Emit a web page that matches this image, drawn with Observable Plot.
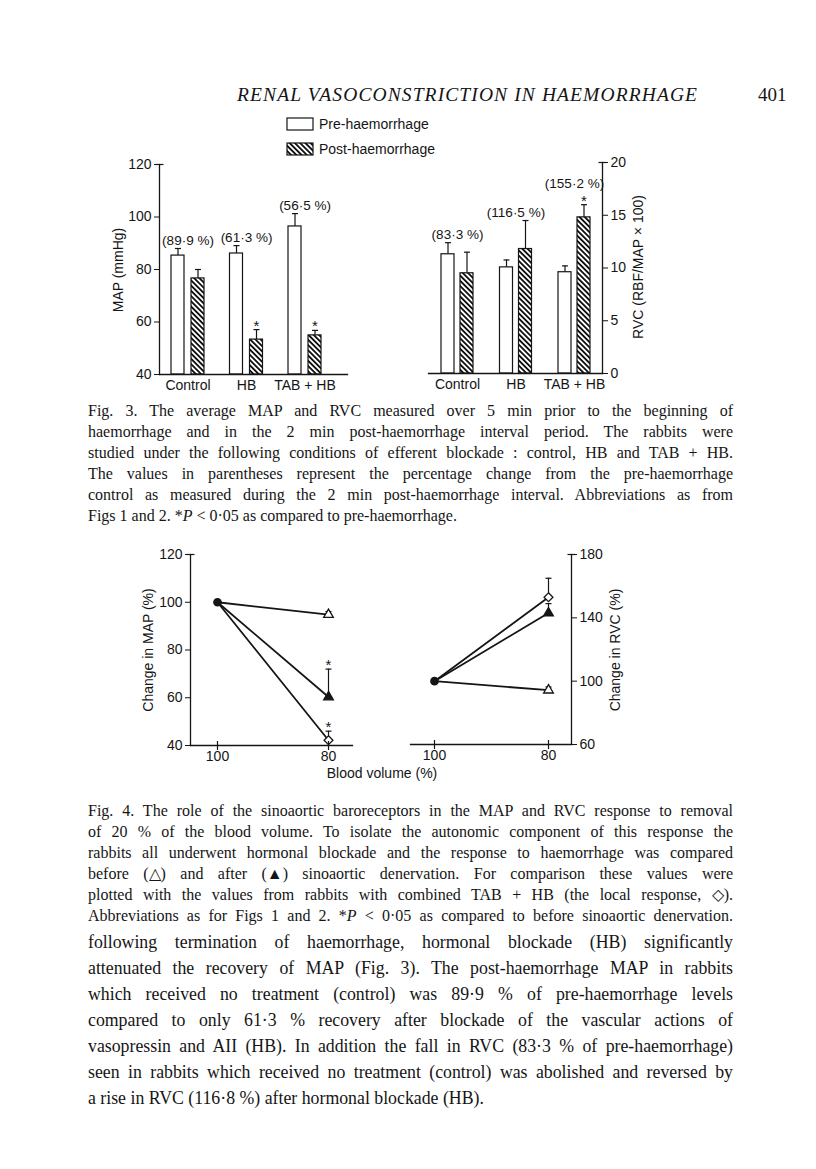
<!DOCTYPE html>
<html><head><meta charset="utf-8">
<script src="https://cdn.jsdelivr.net/npm/d3@7"></script>
<script src="https://cdn.jsdelivr.net/npm/@observablehq/plot@0.6"></script>
<style>
body{margin:0;background:#fff;}
#page{position:relative;width:816px;height:1169px;overflow:hidden;background:#fff;color:#151515;}
.abs{position:absolute;}
.sans{font-family:"Liberation Sans",Arial,sans-serif;font-size:14px;}
.serif{font-family:"Liberation Serif","Times New Roman",serif;}
.rot{position:absolute;white-space:nowrap;transform:translate(-50%,-50%) rotate(-90deg);}
.ctr{position:absolute;white-space:nowrap;transform:translate(-50%,-50%);}
.ln{position:absolute;white-space:nowrap;}
.ln span{display:inline-block;transform-origin:0 50%;}
</style></head><body><div id="page"></div>
<script>
// ---------- Fig. 3 data ----------
const groups = ["Control", "HB", "TAB + HB"];
const mapPre = [85.3, 86.1, 96.4];
const mapPreErr = [2.7, 3.0, 4.9];
const mapPost = [76.6, 53.3, 54.9];
const mapPostErr = [3.4, 3.8, 1.9];
const mapPostSig = [false, true, true];
const mapPct = ["(89·9 %)", "(61·3 %)", "(56·5 %)"];
const mapTicks = [40, 60, 80, 100, 120];

const rvcPre = [11.3, 10.06, 9.6];
const rvcPreErr = [1.1, 0.7, 0.6];
const rvcPost = [9.5, 11.8, 14.8];
const rvcPostErr = [2.0, 2.7, 1.2];
const rvcPostSig = [false, false, true];
const rvcPct = ["(83·3 %)", "(116·5 %)", "(155·2 %)"];
const rvcTicks = [0, 5, 10, 15, 20];

// ---------- Fig. 4 data ----------
const bloodVolume = [100, 80];
const seriesNames = ["before", "after", "TAB + HB"];
const mapBefore = [100, 94.8], mapBeforeErr = [0, 1.3];
const mapAfter = [100, 60.3], mapAfterErr = [0, 11.7];
const mapTab = [100, 42.2], mapTabErr = [0, 3.8];
const mapSig80 = [false, true, true];
const changeMapTicks = [40, 60, 80, 100, 120];
const rvcBefore = [100, 94.3], rvcBeforeErr = [0, 2.0];
const rvcAfter = [100, 143], rvcAfterErr = [0, 6.0];
const rvcTab = [100, 153], rvcTabErr = [0, 12.0];
const rvcSig80 = [false, false, false];
const changeRvcTicks = [60, 100, 140, 180];

// ---------- helpers ----------
const page = document.getElementById("page");
const ink = "#151515";
const hcap = {draw(ctx, size) { const r = Math.sqrt(size / Math.PI); ctx.moveTo(-r, 0); ctx.lineTo(r, 0); }};
const vcap = {draw(ctx, size) { const r = Math.sqrt(size / Math.PI); ctx.moveTo(0, -r); ctx.lineTo(0, r); }};
const style = {fontFamily: "Liberation Sans, Arial, sans-serif", fontSize: "14px", color: ink, background: "transparent", overflow: "visible"};

function place(el, left, top) {
  el.style.position = "absolute"; el.style.left = left + "px"; el.style.top = top + "px";
  page.appendChild(el);
}
function addHatch(svg, id) {
  const ns = "http://www.w3.org/2000/svg";
  const defs = document.createElementNS(ns, "defs");
  defs.innerHTML = `<pattern id="${id}" patternUnits="userSpaceOnUse" width="3.7" height="3.7" patternTransform="rotate(-45)"><rect width="3.7" height="3.7" fill="white"/><line x1="1.85" y1="-1" x2="1.85" y2="5" stroke="#111" stroke-width="1.9"/></pattern>`;
  svg.insertBefore(defs, svg.firstChild);
}
function fig3Rows(pre, preErr, post, postErr, sig) {
  return groups.flatMap((g, i) => [
    {group: g, phase: "pre", value: pre[i], err: preErr[i], sig: false},
    {group: g, phase: "post", value: post[i], err: postErr[i], sig: sig[i]}
  ]);
}
function fig3Labels(rows, pct) {
  return groups.map((g, i) => {
    const rs = rows.filter(r => r.group === g);
    const top = d3.max(rs, r => r.value + r.err);
    const hi = rs.find(r => r.value + r.err === top);
    return {group: g, top, text: pct[i], star: hi.sig};
  });
}
function fig3Panel({rows, labels, ticks, axisAnchor, hatchId, width, height, margins, xRange, padInner, offset, inset}) {
  const pre = rows.filter(r => r.phase === "pre"), post = rows.filter(r => r.phase === "post");
  const base = ticks[0];
  const svg = Plot.plot({
    width, height, ...margins, style,
    x: {type: "band", domain: groups, range: xRange, paddingInner: padInner, paddingOuter: 0, align: 0.5, round: false},
    y: {domain: [ticks[0], ticks[ticks.length - 1]]},
    marks: [
      Plot.ruleX(pre, {x: "group", y1: "value", y2: d => d.value + d.err, dx: -offset, strokeWidth: 1.2}),
      Plot.ruleX(post, {x: "group", y1: "value", y2: d => d.value + d.err, dx: offset, strokeWidth: 1.2}),
      Plot.dot(pre, {x: "group", y: d => d.value + d.err, dx: -offset, symbol: hcap, r: 3, stroke: ink, strokeWidth: 1.2}),
      Plot.dot(post, {x: "group", y: d => d.value + d.err, dx: offset, symbol: hcap, r: 3, stroke: ink, strokeWidth: 1.2}),
      Plot.barY(pre, {x: "group", y1: base, y2: "value", insetRight: inset, fill: "white", stroke: ink, strokeWidth: 1.2}),
      Plot.barY(post, {x: "group", y1: base, y2: "value", insetLeft: inset, fill: `url(#${hatchId})`, stroke: ink, strokeWidth: 1.2}),
      Plot.text(post.filter(d => d.sig), {x: "group", y: d => d.value + d.err, dx: offset, text: () => "*", lineAnchor: "bottom", dy: 1, fontSize: 15}),
      Plot.text(labels.filter(d => !d.star), {x: "group", y: "top", text: "text", lineAnchor: "bottom", dy: -4, fontSize: 13.5}),
      Plot.text(labels.filter(d => d.star), {x: "group", y: "top", text: "text", lineAnchor: "bottom", dy: -17, fontSize: 13.5}),
      Plot.frame({anchor: axisAnchor, strokeWidth: 1.3}),
      Plot.frame({anchor: "bottom", strokeWidth: 1.3}),
      Plot.dot([0], {frameAnchor: axisAnchor === "left" ? "top-left" : "top-right", symbol: hcap, r: 4, stroke: ink, strokeWidth: 1.2}),
      Plot.axisY({anchor: axisAnchor, ticks, tickSize: 5, tickPadding: 3, label: null, tickFormat: d3.format("d")}),
      Plot.axisX({tickSize: 0, tickPadding: 6, label: null})
    ]
  });
  addHatch(svg, hatchId);
  return svg;
}

// ---------- Fig. 3 ----------
const mapRows = fig3Rows(mapPre, mapPreErr, mapPost, mapPostErr, mapPostSig);
const rvcRows = fig3Rows(rvcPre, rvcPreErr, rvcPost, rvcPostErr, rvcPostSig);
place(fig3Panel({rows: mapRows, labels: fig3Labels(mapRows, mapPct), ticks: mapTicks, axisAnchor: "left", hatchId: "hatchL",
  width: 260, height: 250, margins: {marginLeft: 59, marginRight: 13, marginTop: 14, marginBottom: 26},
  xRange: [71, 221], padInner: 0.436, offset: 10, inset: 20}), 100, 150);
place(fig3Panel({rows: rvcRows, labels: fig3Labels(rvcRows, rvcPct), ticks: rvcTicks, axisAnchor: "right", hatchId: "hatchR",
  width: 260, height: 250, margins: {marginLeft: 28, marginRight: 58, marginTop: 12, marginBottom: 27},
  xRange: [41, 190], padInner: 0.453, offset: 9.5, inset: 19}), 400, 150);

// ---------- Fig. 4 ----------
function fig4Rows(lists) {
  return lists.flatMap(([vals, errs], s) => bloodVolume.map((v, i) => ({volume: v, value: vals[i], err: errs[i], series: seriesNames[s], s})));
}
function fig4Panel({rows, sig, ticks, axisAnchor, width, height, margins, xRange}) {
  const end = rows.filter(r => r.volume === bloodVolume[1]);
  const start = rows.filter(r => r.volume === bloodVolume[0] && r.s === 0);
  const errRows = end.filter(r => r.err > 0);
  return Plot.plot({
    width, height, ...margins, style,
    x: {domain: bloodVolume, range: xRange},
    y: {domain: [ticks[0], ticks[ticks.length - 1]]},
    marks: [
      Plot.line(rows, {x: "volume", y: "value", z: "series", strokeWidth: 1.8, stroke: ink}),
      Plot.ruleX(errRows, {x: "volume", y1: "value", y2: d => d.value + d.err, strokeWidth: 1.2}),
      Plot.dot(errRows, {x: "volume", y: d => d.value + d.err, symbol: hcap, r: 3, stroke: ink, strokeWidth: 1.2}),
      Plot.text(end.filter(d => sig[d.s]), {x: "volume", y: d => d.value + d.err, text: () => "*", lineAnchor: "bottom", dy: 1, fontSize: 15}),
      Plot.dot(start, {x: "volume", y: "value", symbol: "circle", r: 3.6, fill: ink, stroke: ink}),
      Plot.dot(end.filter(d => d.s === 0), {x: "volume", y: "value", symbol: "triangle", r: 3.6, fill: "white", stroke: ink, strokeWidth: 1.3}),
      Plot.dot(end.filter(d => d.s === 1), {x: "volume", y: "value", symbol: "triangle", r: 3.6, fill: ink, stroke: ink, strokeWidth: 1.3}),
      Plot.dot(end.filter(d => d.s === 2), {x: "volume", y: "value", symbol: "diamond2", r: 4, fill: "white", stroke: ink, strokeWidth: 1.3}),
      Plot.frame({anchor: axisAnchor, strokeWidth: 1.3}),
      Plot.frame({anchor: "bottom", strokeWidth: 1.3}),
      Plot.dot(bloodVolume, {x: d => d, y: ticks[0], symbol: vcap, r: 4.5, stroke: ink, strokeWidth: 1.2}),
      Plot.dot([0], {frameAnchor: axisAnchor === "left" ? "top-left" : "top-right", symbol: hcap, r: 4, stroke: ink, strokeWidth: 1.2}),
      Plot.axisY({anchor: axisAnchor, ticks, tickSize: 5, tickPadding: 3, label: null, tickFormat: d3.format("d")}),
      Plot.axisX({ticks: bloodVolume, tickSize: 0, tickPadding: 6, label: null, tickFormat: d3.format("d")})
    ]
  });
}
place(fig4Panel({rows: fig4Rows([[mapBefore, mapBeforeErr], [mapAfter, mapAfterErr], [mapTab, mapTabErr]]), sig: mapSig80,
  ticks: changeMapTicks, axisAnchor: "left", width: 262, height: 230,
  margins: {marginLeft: 90, marginRight: 10, marginTop: 14, marginBottom: 25}, xRange: [117, 228]}), 100, 540);
place(fig4Panel({rows: fig4Rows([[rvcBefore, rvcBeforeErr], [rvcAfter, rvcAfterErr], [rvcTab, rvcTabErr]]), sig: rvcSig80,
  ticks: changeRvcTicks, axisAnchor: "right", width: 240, height: 230,
  margins: {marginLeft: 10, marginRight: 69, marginTop: 14, marginBottom: 26}, xRange: [34, 148]}), 400, 540);

// ---------- chart texts ----------
function html(s) { const t = document.createElement("template"); t.innerHTML = s.trim(); return t.content.firstChild; }
page.appendChild(html(`<div class="rot sans" style="left:118px;top:270px">MAP (mmHg)</div>`));
page.appendChild(html(`<div class="rot sans" style="left:638px;top:267px">RVC (RBF/MAP × 100)</div>`));
page.appendChild(html(`<div class="rot sans" style="left:148px;top:650px">Change in MAP (%)</div>`));
page.appendChild(html(`<div class="rot sans" style="left:615px;top:650px">Change in RVC (%)</div>`));
page.appendChild(html(`<div class="ctr sans" style="left:382px;top:773px">Blood volume (%)</div>`));
// legend
page.appendChild(html(`<div class="abs sans" style="left:286px;top:116px;line-height:14px">
<div style="display:flex;align-items:center;height:15px"><svg width="28" height="14"><rect x="1" y="1" width="26" height="12" fill="white" stroke="#151515" stroke-width="1.2"/></svg><span style="margin-left:5px">Pre-haemorrhage</span></div>
<div style="display:flex;align-items:center;height:15px;margin-top:10px"><svg width="28" height="14"><defs><pattern id="hatchG" patternUnits="userSpaceOnUse" width="3.7" height="3.7" patternTransform="rotate(-45)"><rect width="3.7" height="3.7" fill="white"/><line x1="1.85" y1="-1" x2="1.85" y2="5" stroke="#111" stroke-width="1.9"/></pattern></defs><rect x="1" y="1" width="26" height="12" fill="url(#hatchG)" stroke="#151515" stroke-width="1.2"/></svg><span style="margin-left:5px">Post-haemorrhage</span></div>
</div>`));

// ---------- page texts ----------
function addLines(lines, {left, top, width, lh, size, justifyLast}) {
  lines.forEach((txt, i) => {
    const d = document.createElement("div");
    d.className = "ln serif";
    d.style.left = left + "px"; d.style.top = (top + i * lh) + "px";
    d.style.fontSize = size + "px"; d.style.lineHeight = lh + "px";
    const s = document.createElement("span");
    s.innerHTML = txt;
    d.appendChild(s); page.appendChild(d);
    const w = s.getBoundingClientRect().width;
    const justify = i < lines.length - 1 || justifyLast;
    if (!justify) return;
    const n = (txt.replace(/<[^>]*>/g, "").match(/ /g) || []).length;
    if (w < width && n > 0) s.style.wordSpacing = ((width - w) / n) + "px";
    else if (w > width) s.style.transform = `scaleX(${width / w})`;
  });
}
// running head
const head = html(`<div class="abs serif" style="left:237px;top:84px;font-size:19.5px;line-height:22px;font-style:italic;white-space:nowrap"><span style="display:inline-block">RENAL VASOCONSTRICTION IN HAEMORRHAGE</span></div>`);
page.appendChild(head);
{
  const s = head.firstChild, w = s.getBoundingClientRect().width, n = s.textContent.length - 1;
  s.style.letterSpacing = ((460 - w) / n) + "px";
}
page.appendChild(html(`<div class="abs serif" style="left:758px;top:84px;font-size:19px;line-height:22px;white-space:nowrap">401</div>`));

const cap3 = [
  "Fig. 3. The average MAP and RVC measured over 5 min prior to the beginning of",
  "haemorrhage and in the 2 min post-haemorrhage interval period. The rabbits were",
  "studied under the following conditions of efferent blockade : control, HB and TAB + HB.",
  "The values in parentheses represent the percentage change from the pre-haemorrhage",
  "control as measured during the 2 min post-haemorrhage interval. Abbreviations as from",
  "Figs 1 and 2. *<i>P</i> &lt; 0·05 as compared to pre-haemorrhage."
];
const cap4 = [
  "Fig. 4. The role of the sinoaortic baroreceptors in the MAP and RVC response to removal",
  "of 20 % of the blood volume. To isolate the autonomic component of this response the",
  "rabbits all underwent hormonal blockade and the response to haemorrhage was compared",
  "before (△) and after (▲) sinoaortic denervation. For comparison these values were",
  "plotted with the values from rabbits with combined TAB + HB (the local response, ◇).",
  "Abbreviations as for Figs 1 and 2. *<i>P</i> &lt; 0·05 as compared to before sinoaortic denervation."
];
const body = [
  "following termination of haemorrhage, hormonal blockade (HB) significantly",
  "attenuated the recovery of MAP (Fig. 3). The post-haemorrhage MAP in rabbits",
  "which received no treatment (control) was 89·9 % of pre-haemorrhage levels",
  "compared to only 61·3 % recovery after blockade of the vascular actions of",
  "vasopressin and AII (HB). In addition the fall in RVC (83·3 % of pre-haemorrhage)",
  "seen in rabbits which received no treatment (control) was abolished and reversed by",
  "a rise in RVC (116·8 %) after hormonal blockade (HB)."
];
addLines(cap3, {left: 88, top: 400, width: 645, lh: 21, size: 16, justifyLast: false});
addLines(cap4, {left: 88, top: 800, width: 645, lh: 21, size: 16, justifyLast: true});
addLines(body, {left: 88, top: 929, width: 645, lh: 26, size: 17.8, justifyLast: false});
</script></body></html>
